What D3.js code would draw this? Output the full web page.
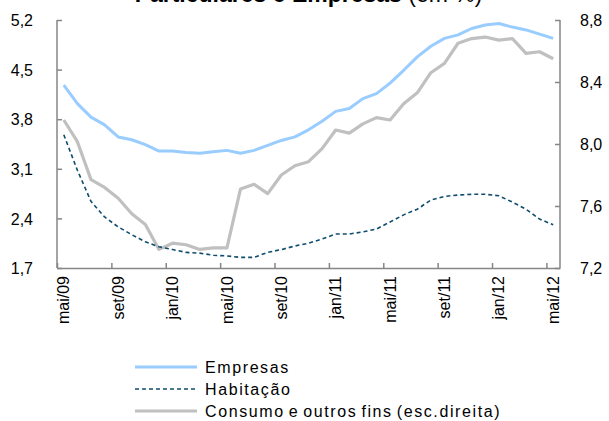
<!DOCTYPE html>
<html>
<head>
<meta charset="utf-8">
<script src="https://cdn.jsdelivr.net/npm/d3@7"></script>
<style>
  body { margin: 0; background: #fff; }
  text { font-family: "Liberation Sans", Arial, sans-serif; fill: #000; }
</style>
</head>
<body>
<div id="chart"></div>
<script>
'use strict';

// months mai/09 .. mai/12
const months = ['mai/09','jun/09','jul/09','ago/09','set/09','out/09','nov/09','dez/09',
    'jan/10','fev/10','mar/10','abr/10','mai/10','jun/10','jul/10','ago/10',
    'set/10','out/10','nov/10','dez/10','jan/11','fev/11','mar/11','abr/11',
    'mai/11','jun/11','jul/11','ago/11','set/11','out/11','nov/11','dez/11',
    'jan/12','fev/12','mar/12','abr/12','mai/12'];

const empresas = [4.28, 4.02, 3.83, 3.72, 3.55, 3.51, 3.44, 3.35, 3.35, 3.33,
    3.32, 3.34, 3.36, 3.32, 3.36, 3.43, 3.50, 3.55, 3.65, 3.77,
    3.91, 3.95, 4.09, 4.16, 4.31, 4.49, 4.68, 4.83, 4.94, 4.99,
    5.08, 5.13, 5.15, 5.10, 5.06, 5.00, 4.94];

const habitacao = [3.58, 3.08, 2.64, 2.42, 2.28, 2.17, 2.07, 2.00, 1.96, 1.92,
    1.91, 1.88, 1.87, 1.85, 1.85, 1.92, 1.96, 2.01, 2.05, 2.11,
    2.18, 2.18, 2.21, 2.25, 2.35, 2.45, 2.53, 2.66, 2.71, 2.73,
    2.74, 2.74, 2.72, 2.63, 2.53, 2.39, 2.31];

const consumo = [8.155, 8.015, 7.77, 7.72, 7.65, 7.55, 7.48, 7.32, 7.36, 7.35,
    7.32, 7.33, 7.33, 7.71, 7.74, 7.68, 7.80, 7.86, 7.886, 7.97,
    8.09, 8.07, 8.13, 8.17, 8.155, 8.26, 8.33, 8.46, 8.52, 8.65,
    8.68, 8.69, 8.67, 8.68, 8.585, 8.595, 8.55];

const leftTicks = [1.7, 2.4, 3.1, 3.8, 4.5, 5.2];
const rightTicks = [7.2, 7.6, 8.0, 8.4, 8.8];
const labelEvery = 4;

const legendItems = [
    {name: 'Empresas', color: '#99ccff', width: 3, dash: null},
    {name: 'Habitação', color: '#0f4c6e', width: 1.6, dash: '4,3'},
    {name: 'Consumo e outros fins (esc.direita)', color: '#c0c0c0', width: 3.2, dash: null}
];

const W = 609, H = 421;
const plot = {left: 57, right: 560, top: 20, bottom: 268};
const axisColor = '#868686';
const fmt = d => d.toFixed(1).replace('.', ',');

const svg = d3.select('#chart').append('svg')
    .attr('width', W)
    .attr('height', H);

// title (mostly cut off at the top, as in the original)
let title = svg.append('text')
    .attr('x', (plot.left + plot.right) / 2)
    .attr('y', 2)
    .attr('text-anchor', 'middle')
    .style('font-size', '23px');
title.append('tspan').style('font-weight', 'bold').text('Particulares e Empresas ');
title.append('tspan').text('(em %)');

const xIdx = d3.scaleLinear().domain([0, months.length]).range([plot.left, plot.right]);
const yLeft = d3.scaleLinear().domain([1.7, 5.2]).range([plot.bottom, plot.top]);
const yRight = d3.scaleLinear().domain([7.2, 8.8]).range([plot.bottom, plot.top]);
const xPos = i => xIdx(i + 0.5);

// axes
let leftAxis = svg.append('g')
    .attr('transform', 'translate(' + plot.left + ',0)')
    .call(d3.axisLeft(yLeft).tickValues(leftTicks).tickFormat(fmt).tickSize(-5).tickPadding(24));

let rightAxis = svg.append('g')
    .attr('transform', 'translate(' + plot.right + ',0)')
    .call(d3.axisRight(yRight).tickValues(rightTicks).tickFormat(fmt).tickSize(-5).tickPadding(20));

let bottomAxis = svg.append('g')
    .attr('transform', 'translate(0,' + plot.bottom + ')')
    .call(d3.axisBottom(xIdx)
        .tickValues(d3.range(0, months.length, labelEvery))
        .tickFormat('')
        .tickSize(-5)
        .tickSizeOuter(0));

[leftAxis, rightAxis, bottomAxis].forEach(g => {
    g.selectAll('path, line').attr('stroke', axisColor).attr('stroke-width', 1.5);
    g.selectAll('text').style('font-size', '16px').attr('font-family', null);
});
leftAxis.select('.domain').attr('d', 'M0,' + plot.top + 'V' + plot.bottom);
rightAxis.select('.domain').attr('d', 'M0,' + plot.top + 'V' + plot.bottom);
leftAxis.selectAll('.tick text').attr('dy', '0.35em');
rightAxis.selectAll('.tick text').attr('dy', '0.35em');

// category labels, rotated
svg.append('g')
    .selectAll('text')
    .data(months.filter((d, i) => i % labelEvery === 0))
    .enter()
    .append('text')
    .attr('transform', d => 'translate(' + xPos(months.indexOf(d)) + ',' + (plot.bottom + 8) + ') rotate(-90)')
    .attr('text-anchor', 'end')
    .attr('dy', '0.35em')
    .style('font-size', '16px')
    .text(d => d);

// lines
const lineLeft = d3.line().x((d, i) => xPos(i)).y(d => yLeft(d));
const lineRight = d3.line().x((d, i) => xPos(i)).y(d => yRight(d));

svg.append('path')
    .datum(consumo)
    .attr('d', lineRight)
    .attr('fill', 'none')
    .attr('stroke', legendItems[2].color)
    .attr('stroke-width', legendItems[2].width)
    .attr('stroke-linejoin', 'round');

svg.append('path')
    .datum(empresas)
    .attr('d', lineLeft)
    .attr('fill', 'none')
    .attr('stroke', legendItems[0].color)
    .attr('stroke-width', legendItems[0].width)
    .attr('stroke-linejoin', 'round');

svg.append('path')
    .datum(habitacao)
    .attr('d', lineLeft)
    .attr('fill', 'none')
    .attr('stroke', legendItems[1].color)
    .attr('stroke-width', legendItems[1].width)
    .attr('stroke-dasharray', legendItems[1].dash);

// legend
let legend = svg.append('g').attr('transform', 'translate(135,367)');
let rows = legend.selectAll('g')
    .data(legendItems)
    .enter()
    .append('g')
    .attr('transform', (d, i) => 'translate(0,' + (i * 22) + ')');

rows.append('line')
    .attr('x1', 0).attr('x2', 62)
    .attr('stroke', d => d.color)
    .attr('stroke-width', d => d.width)
    .attr('stroke-dasharray', d => d.dash);

rows.append('text')
    .attr('x', 70)
    .attr('dy', '0.35em')
    .style('font-size', '16px')
    .style('letter-spacing', '1.6px')
    .style('word-spacing', '-2px')
    .text(d => d.name);
</script>
</body>
</html>
